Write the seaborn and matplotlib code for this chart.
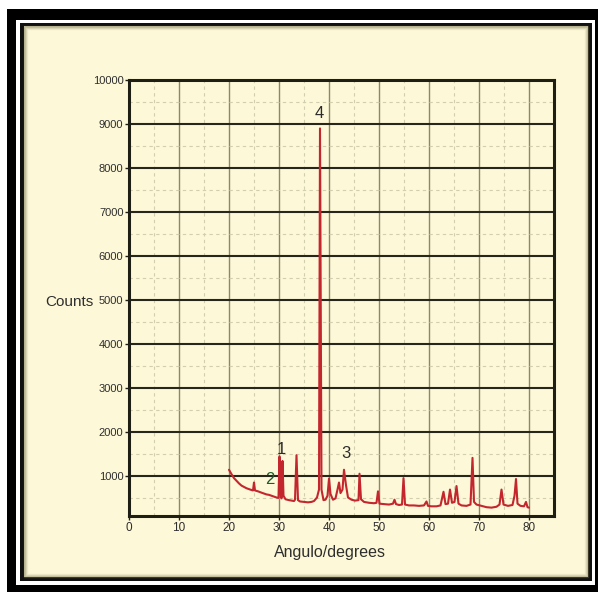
import matplotlib
matplotlib.use("Agg")
import matplotlib.pyplot as plt
from matplotlib.patches import Rectangle
from matplotlib.ticker import MultipleLocator
import seaborn as sns
import pandas as pd

# difractograma
angulo = [20.0, 20.5, 21.0, 21.5, 22.0, 22.5, 23.0, 23.5, 24.0, 24.5, 24.8, 25.0, 25.2,
          25.8, 26.5, 27.0, 27.5, 28.0, 28.5, 29.0, 29.5, 29.9, 30.1, 30.3, 30.5, 30.7,
          30.9, 31.3, 32.0, 32.5, 33.0, 33.2, 33.5, 33.8, 34.2, 35.0, 35.8, 36.5, 37.0,
          37.6, 38.0, 38.2, 38.5, 38.9, 39.3, 39.7, 40.0, 40.3, 40.8, 41.3, 41.7, 42.0,
          42.3, 42.7, 43.0, 43.4, 43.8, 44.5, 45.2, 45.9, 46.1, 46.4, 47.0, 48.0, 49.0,
          49.5, 49.8, 50.1, 51.0, 52.0, 52.8, 53.1, 53.4, 54.0, 54.6, 54.9, 55.2, 56.0,
          57.0, 58.0, 59.0, 59.5, 59.8, 60.5, 61.5, 62.3, 62.9, 63.3, 63.8, 64.2, 64.6,
          65.1, 65.5, 65.9, 66.5, 67.5, 68.3, 68.7, 69.0, 69.5, 70.5, 71.5, 72.5, 73.5,
          74.1, 74.5, 74.9, 75.8, 76.7, 77.1, 77.4, 77.7, 78.3, 79.0, 79.4, 79.7, 80.0]
cuentas = [1150, 1050, 960, 900, 840, 790, 760, 730, 710, 690, 680, 860, 680,
           660, 630, 610, 590, 580, 560, 540, 520, 510, 1450, 600, 500, 1350,
           560, 480, 460, 450, 440, 470, 1480, 460, 430, 420, 410, 420, 440,
           520, 700, 8900, 700, 460, 470, 560, 950, 600, 470, 500, 700, 860,
           620, 700, 1150, 800, 520, 470, 450, 460, 1060, 480, 420, 400, 390,
           400, 660, 380, 370, 360, 380, 470, 370, 350, 360, 960, 360, 340,
           340, 330, 340, 430, 330, 320, 320, 340, 650, 370, 380, 700, 400,
           420, 780, 380, 340, 330, 360, 1420, 420, 360, 330, 300, 290, 310,
           360, 700, 360, 330, 350, 560, 940, 380, 330, 320, 420, 300, 290]

etiquetas = ["4", "1", "2", "3"]
etiq_x = [38.1, 30.4, 28.1, 43.3]
etiq_y = [9230, 1620, 940, 1530]
etiq_color = ["#2b2b2b", "#2b2b2b", "#1f5a2a", "#2b2b2b"]

df = pd.DataFrame({"angulo": angulo, "cuentas": cuentas})

sns.set_style("ticks")
plt.rcParams['font.family'] = ['Liberation Sans', 'DejaVu Sans']

crema = "#fdf8d8"
W, H = 601, 592
fig = plt.figure(figsize=(W / 100, H / 100), dpi=100)
fig.patch.set_facecolor("white")


def caja(x0, y0, x1, y1, **kw):
    # coordenadas en pixeles (origen arriba a la izquierda)
    r = Rectangle((x0 / W, 1 - y1 / H), (x1 - x0) / W, (y1 - y0) / H,
                  transform=fig.transFigure, **kw)
    fig.add_artist(r)


# marco negro con filete blanco y sombra interior
caja(7, 9, 598, 592, facecolor="black", edgecolor="none", zorder=0)
caja(16, 20, 595, 585, facecolor="white", edgecolor="none", zorder=0)
caja(20, 23, 592, 581, facecolor="#111111", edgecolor="none", zorder=0)
caja(24, 26, 588, 577, facecolor=crema, edgecolor="none", zorder=0)
for i, a in enumerate([0.45, 0.3, 0.18, 0.08]):
    caja(24 + i, 26 + i, 588 - i, 577 - i, facecolor="none",
         edgecolor="#6b6840", lw=1.0, alpha=a, zorder=0)

ax = fig.add_axes([129 / W, 1 - 516 / H, 425 / W, 436 / H])
ax.set_facecolor(crema)
ax.set_axisbelow(True)

sns.lineplot(data=df, x="angulo", y="cuentas", color="#c4262e", lw=1.5,
             estimator=None, ax=ax, zorder=3)

ax.set_xlim(0, 85)
ax.set_ylim(100, 10000)
ax.xaxis.set_major_locator(MultipleLocator(10))
ax.xaxis.set_minor_locator(MultipleLocator(5))
ax.set_yticks(range(1000, 10001, 1000))
ax.yaxis.set_minor_locator(MultipleLocator(500))
ax.set_xticks(range(0, 81, 10))

ax.grid(which="major", axis="y", color="#26261a", lw=1.5)
ax.grid(which="major", axis="x", color="#8c8a66", lw=1.0)
ax.grid(which="minor", axis="both", color="#d2cfae", lw=0.8, ls=(0, (3, 3)))

for s in ax.spines.values():
    s.set_color("#1e1e14")
    s.set_linewidth(2.2)

ax.tick_params(which="major", length=3, width=1, color="#1e1e14", pad=1,
               labelsize=8, labelcolor="#2e2e2e")
ax.tick_params(axis="x", labelsize=8.5)
ax.tick_params(which="minor", length=0)
for t in ax.get_xticklabels() + ax.get_yticklabels():
    t.set_family(['Liberation Sans', 'DejaVu Sans'])

ax.set_xlabel("")
ax.set_ylabel("")
fig.text(69 / W, 1 - 302 / H, "Counts", ha="center", va="center",
         fontsize=11, color="#2e2e2e")
fig.text(330 / W, 1 - 552 / H, "Angulo/degrees", ha="center", va="center",
         fontsize=11.5, color="#2e2e2e")

for txt, x, y, c in zip(etiquetas, etiq_x, etiq_y, etiq_color):
    ax.text(x, y, txt, ha="center", va="center", fontsize=12, color=c, zorder=4)

fig.savefig("out.png", dpi=100)
